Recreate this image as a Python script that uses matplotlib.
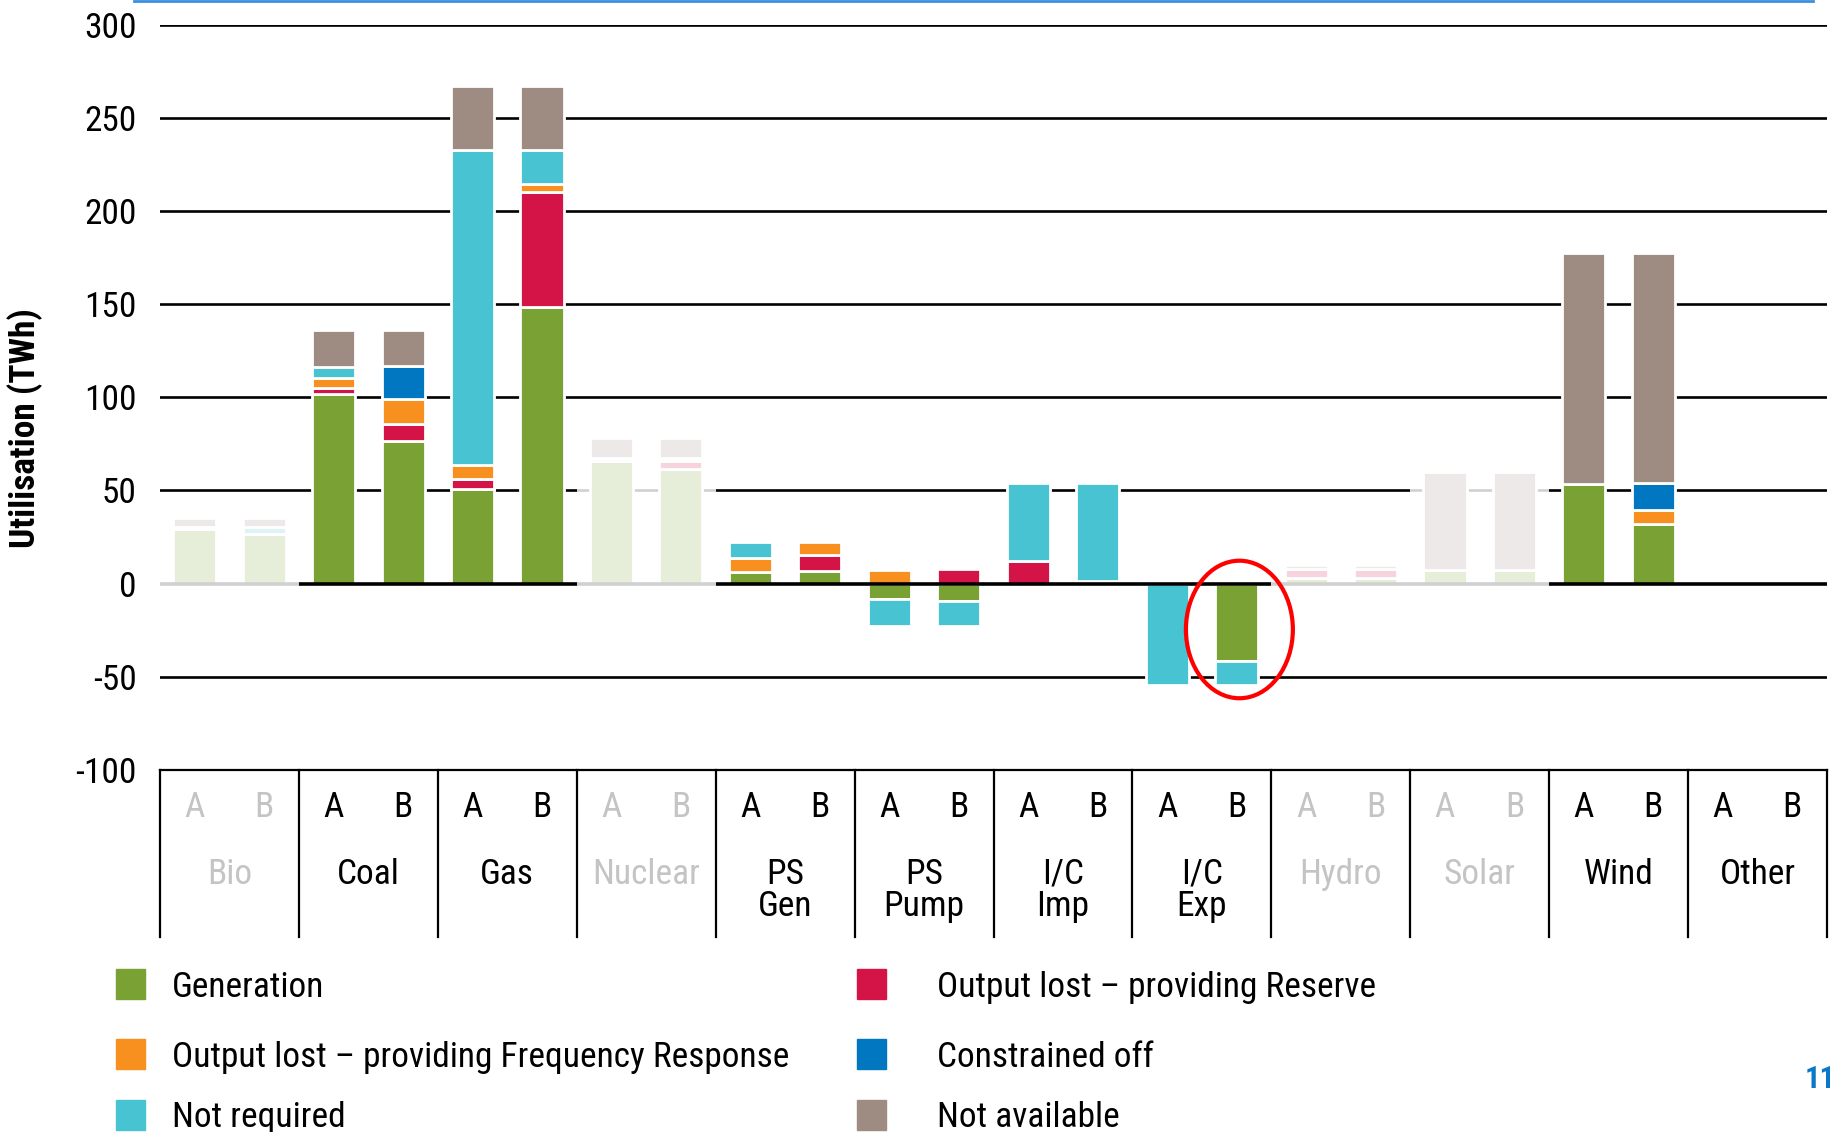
import numpy as np
import matplotlib
matplotlib.use("Agg")
import matplotlib.pyplot as plt
from matplotlib import font_manager
from matplotlib.patches import Ellipse, Rectangle
from matplotlib.lines import Line2D

categories = ["Bio", "Coal", "Gas", "Nuclear", "PS\nGen", "PS\nPump", "I/C\nImp", "I/C\nExp",
              "Hydro", "Solar", "Wind", "Other"]
faded = ["Bio", "Nuclear", "Hydro", "Solar"]
scenarios = ["A", "B"]

# TWh, per bar: Bio A, Bio B, Coal A, Coal B, Gas A, Gas B, ... Other A, Other B
generation    = [29.1, 26.4, 102.0, 76.5, 50.7, 148.6, 65.7, 61.7, 6.5, 6.7, -8.3, -9.1,
                 0, 1.5, 0, -41.7, 3.2, 3.2, 7.4, 7.4, 53.6, 32.1, 0, 0]
reserve       = [0, 0, 2.7, 9.1, 5.4, 61.4, 0, 4.0, 0, 8.8, 0, 8.0,
                 12.0, 0, 0, 0, 4.4, 4.4, 0, 0, 0, 0, 0, 0]
freq_resp     = [0, 0, 5.8, 13.7, 7.3, 4.5, 0, 0, 7.2, 7.0, 7.5, 0,
                 0, 0, 0, 0, 0, 0, 0, 0, 0, 7.5, 0, 0]
not_required  = [1.3, 4.0, 5.9, 0, 169.2, 18.1, 1.7, 1.7, 8.8, 0, -14.7, -13.9,
                 42.1, 52.6, -54.2, -12.5, 0, 0, 0, 0, 0, 0, 0, 0]
constrained   = [0, 0, 0, 17.2, 0, 0, 0, 0, 0, 0, 0, 0,
                 0, 0, 0, 0, 0, 0, 0, 0, 0, 14.5, 0, 0]
not_available = [4.8, 4.8, 19.5, 19.4, 34.3, 34.3, 10.8, 10.8, 0, 0, 0, 0,
                 0, 0, 0, 0, 2.2, 2.2, 52.4, 52.4, 123.7, 123.2, 0, 0]

series_names = ["Generation", "Output lost \u2013 providing Reserve",
                "Output lost \u2013 providing Frequency Response", "Not required",
                "Constrained off", "Not available"]
series_colors = ["#7aa133", "#d41346", "#f7901e", "#47c3d2", "#0077c0", "#9e8c83"]
series_values = [generation, reserve, freq_resp, not_required, constrained, not_available]

# legend columns (as in the slide)
legend_cols = [["Generation", "Output lost \u2013 providing Frequency Response", "Not required"],
               ["Output lost \u2013 providing Reserve", "Constrained off", "Not available"]]

names = {f.name for f in font_manager.fontManager.ttflist}
prefs = ["Liberation Sans Narrow", "Arial Narrow", "Roboto Condensed", "Liberation Sans"]
family = next(p for p in prefs if p in names)
plt.rcParams["font.family"] = [family, "DejaVu Sans"]
plt.rcParams["axes.unicode_minus"] = False
FS = 25.5

W, H = 1830, 1132
fig = plt.figure(figsize=(W / 100, H / 100), dpi=100)
ax = fig.add_axes([160 / W, 1 - 770 / H, (1827 - 160) / W, (770 - 24.5) / H])
ax.set_xlim(0, len(categories))
ax.set_ylim(-100, 300)

n = len(categories)
x = np.repeat(np.arange(n), 2) + np.tile([0.25, 0.75], n)
pos_base = np.zeros(2 * n)
neg_base = np.zeros(2 * n)
for name, color, vals in zip(series_names, series_colors, series_values):
    v = np.asarray(vals, dtype=float)
    bottom = np.where(v >= 0, pos_base, neg_base)
    m = v != 0
    ax.bar(x[m], v[m], width=0.31, bottom=bottom[m], color=color,
           edgecolor="white", linewidth=2, zorder=3)
    pos_base += np.clip(v, 0, None)
    neg_base += np.clip(v, None, 0)

# grid lines
for t in range(-50, 301, 50):
    if t == 0:
        ax.axhline(t, color="black", lw=2.6, zorder=4)
    else:
        ax.axhline(t, color="black", lw=1.9, zorder=1)
ax.axhline(-100, color="black", lw=1.6, zorder=1, clip_on=False)

ax.set_yticks(range(-100, 301, 50))
ax.tick_params(axis="y", length=0, pad=17, labelsize=FS)
ax.set_xticks([])
for s in ax.spines.values():
    s.set_visible(False)

# greyed-out categories
for i, cat in enumerate(categories):
    if cat in faded:
        top = max(pos_base[2 * i], pos_base[2 * i + 1]) + 1.5
        ax.add_patch(Rectangle((i, -2.5), 1, top + 2.5, facecolor="white",
                               edgecolor="none", alpha=0.82, zorder=5))

# category table below the plot
for i in range(n + 1):
    ax.plot([i, i], [-100, -189.6], color="black", lw=1.6, clip_on=False)
for i, cat in enumerate(categories):
    col = "#c4c4c4" if cat in faded else "black"
    for j, sc in enumerate(scenarios):
        ax.text(i + 0.25 + 0.5 * j, -125, sc, ha="center", va="baseline",
                fontsize=FS, color=col)
    for k, line in enumerate(cat.split("\n")):
        ax.text(i + 0.5, -161 - 17.4 * k, line, ha="center", va="baseline",
                fontsize=FS, color=col)

# highlight I/C Exp B
ie = categories.index("I/C\nExp")
ax.add_patch(Ellipse((ie + 0.77, -24.6), 0.77, 73.8, fill=False,
                     edgecolor="#ff0000", lw=3, zorder=6))

fig.text(25 / W, 1 - 428.5 / H, "Utilisation (TWh)", rotation=90, ha="center",
         va="center", fontsize=FS, fontweight="bold")

# legend
row_y = [984, 1054, 1114.5]
sq_x = [115.5, 856.6]
txt_x = [171.5, 937]
for c, col_items in enumerate(legend_cols):
    for r, item in enumerate(col_items):
        color = series_colors[series_names.index(item)]
        fig.add_artist(Rectangle((sq_x[c] / W, 1 - (row_y[r] + 15) / H), 29 / W, 30 / H,
                                 transform=fig.transFigure, color=color))
        fig.text(txt_x[c] / W, 1 - (row_y[r] + 12.7) / H, item, ha="left",
                 va="baseline", fontsize=FS)

fig.add_artist(Line2D([134 / W, 1813 / W], [1 - 1.2 / H] * 2, color="#3b8ede", lw=2))
fig.text(1805 / W, 1 - 1079 / H, "11", color="#0a78c8", fontweight="bold",
         fontsize=22, ha="left", va="center")

fig.savefig("out.png", dpi=100)
